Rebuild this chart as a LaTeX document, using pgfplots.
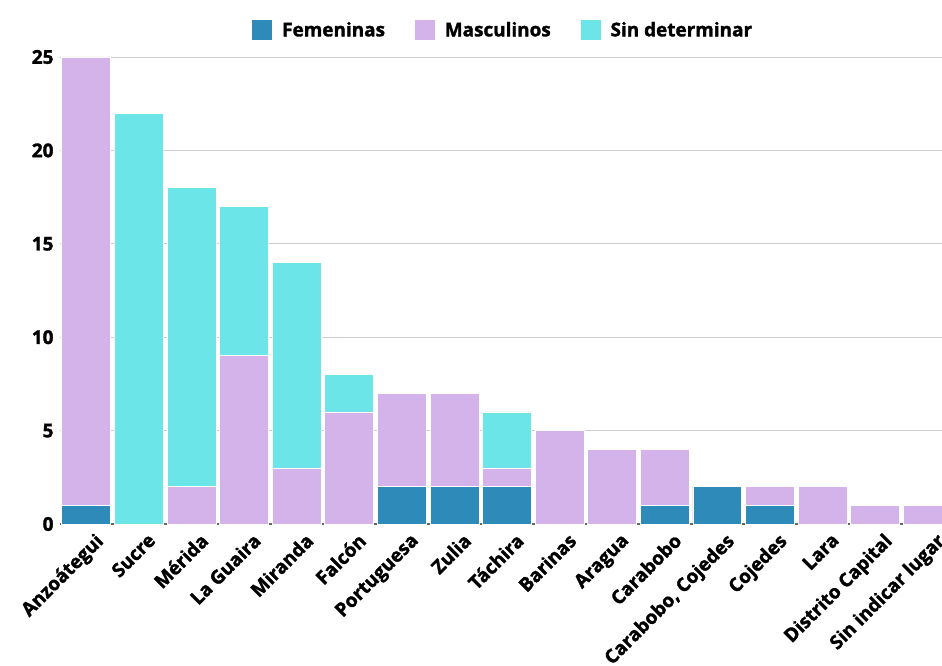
\documentclass[border=0pt]{standalone}
\usepackage{fontspec}
\setmainfont{Open Sans}[BoldFeatures={FakeBold=1.6}]
\usepackage{pgfplots}
\usepackage{pgfplotstable}
\pgfplotsset{compat=1.18}
\definecolor{cfem}{HTML}{2E8BB9}
\definecolor{cmas}{HTML}{D4B3EB}
\definecolor{csin}{HTML}{6CE5E8}
\pgfplotstableread{
x F M S
0 1 24 0
1 0 0 22
2 0 2 16
3 0 9 8
4 0 3 11
5 0 6 2
6 2 5 0
7 2 5 0
8 2 1 3
9 0 5 0
10 0 4 0
11 1 3 0
12 2 0 0
13 1 1 0
14 0 2 0
15 0 1 0
16 0 1 0
}\datatable
\begin{document}
\begin{tikzpicture}
\useasboundingbox (-60bp,-142bp) rectangle (882bp,524bp);
\begin{axis}[
  at={(0,0)}, anchor=south west,
  scale only axis, width=882bp, height=467bp,
  ybar stacked, bar width=0.93,
  xmin=-0.5, xmax=16.27, ymin=0, ymax=25,
  ytick={0,5,...,25},
  xtick={0,...,16},
  xticklabels={Anzoátegui,Sucre,Mérida,La Guaira,Miranda,Falcón,Portuguesa,Zulia,Táchira,Barinas,Aragua,Carabobo,{Carabobo, Cojedes},Cojedes,Lara,Distrito Capital,Sin indicar lugar},
  /pgf/number format/assume math mode=true,
  tick label style={font=\fontsize{19}{22}\selectfont\bfseries},
  xticklabel style={rotate=45, anchor=north east, inner sep=1bp, yshift=-10bp, xshift=1bp},
  yticklabel style={anchor=east, xshift=-3bp},
  major tick length=0,
  axis x line*=bottom, axis y line*=left,
  y axis line style={draw=none},
  x axis line style={draw=black!60, line width=1.2bp},
  ymajorgrids, grid style={draw=black!20, line width=0.8bp},
  legend style={at={(0.502,1.058)}, anchor=center, draw=none, fill=none,
    legend columns=-1, font=\fontsize{19}{22}\selectfont\bfseries,
    /tikz/every even column/.append style={column sep=27bp},
    /tikz/every odd column/.append style={column sep=7bp}},
  legend image code/.code={\fill[#1] (0bp,-10.5bp) rectangle (21bp,10.5bp);},
]
\addplot[fill=cfem, draw=white, line width=0.8bp] table[x=x,y=F]{\datatable};
\addplot[fill=cmas, draw=white, line width=0.8bp] table[x=x,y=M]{\datatable};
\addplot[fill=csin, draw=white, line width=0.8bp] table[x=x,y=S]{\datatable};
\legend{Femeninas,Masculinos,Sin determinar}
\end{axis}
\end{tikzpicture}
\end{document}
